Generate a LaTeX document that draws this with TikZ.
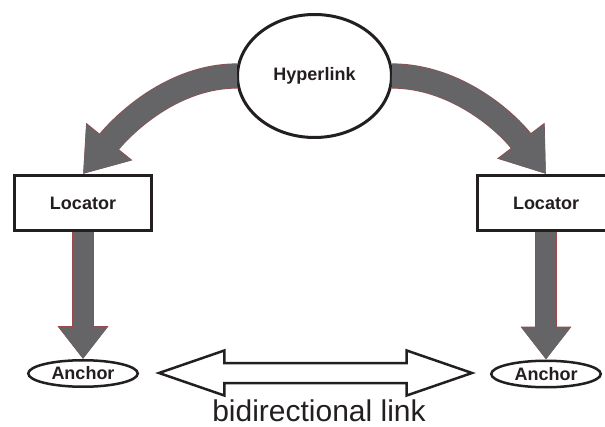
\documentclass[tikz,border=0pt]{standalone}
\usepackage{fontspec}
\setmainfont{Liberation Sans}
\usepackage{tikz}
\usetikzlibrary{shapes.geometric, shapes.arrows, arrows.meta, positioning}
\definecolor{ArrowGray}{HTML}{656567}
\definecolor{EdgeRed}{HTML}{9A4A4A}
\definecolor{InkBlack}{HTML}{231F20}

\tikzset{
  partlabel/.style={font=\fontsize{18}{21}\selectfont\bfseries, text=InkBlack},
  hyperbox/.style={ellipse, draw=InkBlack, line width=3pt, fill=white, inner sep=0pt,
                   minimum width=154pt, minimum height=123pt, partlabel},
  locbox/.style={rectangle, draw=InkBlack, line width=3pt, fill=white, inner sep=0pt,
                 minimum width=137pt, minimum height=55pt, partlabel},
  anchorbox/.style={ellipse, draw=InkBlack, line width=2.5pt, fill=white, inner sep=0pt,
                    minimum width=109.5pt, minimum height=26.5pt, partlabel},
  bendarrow/.style={draw=ArrowGray, line width=24pt, -{Triangle[length=41pt, width=55pt]},
                    preaction={draw=EdgeRed, line width=25.2pt, -{Triangle[length=41.8pt, width=56.6pt]}}},
  droparrow/.style={draw=ArrowGray, line width=20pt, -{Triangle[length=32pt, width=47pt]},
                    preaction={draw=EdgeRed, line width=21.2pt, -{Triangle[length=32.8pt, width=48.6pt]}}}
}

\begin{document}
\begin{tikzpicture}[x=1pt, y=1pt]
  \useasboundingbox (0,0) rectangle (605,426);

  % the link and its two locators
  \node (hyp) [hyperbox] at (314.5,350) {Hyperlink};
  \node (loc1) [locbox] at (83,223) {Locator};
  \node (loc2) [locbox] at (546,223) {Locator};

  % anchors at both ends
  \node (anc1) [anchorbox] at (83,52.5) {Anchor};
  \node (anc2) [anchorbox] at (546,52) {Anchor};

  \node (bilink) [double arrow, draw=InkBlack, line width=2.5pt, inner xsep=0pt, inner ysep=8.75pt,
                  minimum height=313pt, double arrow head extend=12.5pt,
                  double arrow tip angle=38] at (315.5,53) {};
  \node (bilabel) [anchor=base, inner sep=0pt, text depth=0pt, font=\fontsize{30}{36}\selectfont,
                   text=InkBlack] at (319,5) {bidirectional link};

  \draw[bendarrow] ([xshift=1pt]hyp.west) to[out=180, in=51, looseness=0.9] (loc1.north);
  \draw[bendarrow] ([xshift=-1pt]hyp.east) to[out=0, in=127, looseness=0.9] (loc2.north);

  \draw[droparrow] (loc1.south) -- (anc1.north);
  \draw[droparrow] (loc2.south) -- (anc2.north);
\end{tikzpicture}
\end{document}
